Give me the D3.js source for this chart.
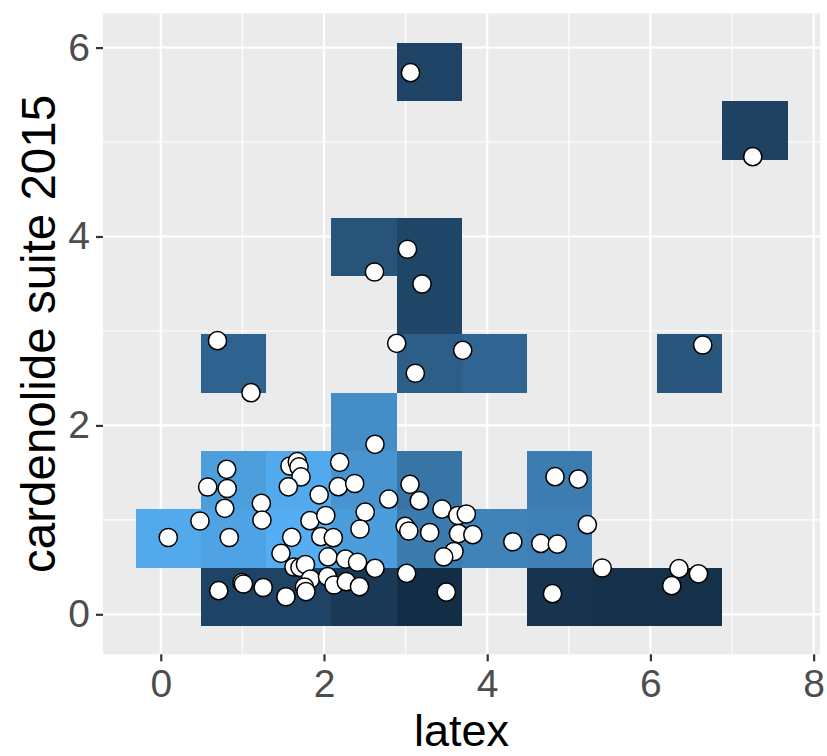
<!DOCTYPE html>
<html>
<head>
<meta charset="utf-8">
<script src="https://cdn.jsdelivr.net/npm/d3@7"></script>
<style>
  html, body { margin: 0; padding: 0; background: #ffffff; }
  svg { display: block; }
  text { font-family: "Liberation Sans", Arial, Helvetica, sans-serif; }
</style>
</head>
<body>
<svg id="chart" width="827" height="756"></svg>
<script>
// ---- data ----
const latex = [3.06,7.254,3.023,2.619,3.201,0.695,2.891,3.70,6.641,3.119,1.105,2.625,
  0.808,0.575,0.814,0.784,0.480,0.092,0.839,1.232,1.240,1.583,1.673,1.694,1.718,1.563,
  2.192,1.941,2.175,2.376,2.505,2.441,1.828,2.022,1.604,1.961,2.114,1.473,2.049,2.263,
  2.411,1.632,1.706,1.773,2.625,1.835,1.761,1.779,2.043,2.123,2.273,2.435,1.534,1.255,
  0.995,1.013,0.710,3.054,2.793,3.168,3.446,3.640,3.744,2.995,3.039,3.295,3.648,3.824,
  3.593,3.467,3.013,3.499,4.314,4.657,4.859,4.831,5.116,5.227,5.409,4.800,6.350,6.589,6.261];
const cardenolide = [5.734,4.845,3.865,3.624,3.497,2.897,2.869,2.795,2.851,2.552,2.346,1.800,
  1.535,1.348,1.332,1.122,0.988,0.813,0.813,1.175,0.998,1.570,1.616,1.560,1.454,1.350,
  1.609,1.265,1.351,1.385,1.081,0.903,0.991,1.046,0.815,0.822,0.811,0.646,0.607,0.585,
  0.551,0.501,0.496,0.527,0.487,0.374,0.289,0.241,0.398,0.310,0.345,0.294,0.186,0.284,
  0.335,0.321,0.250,1.376,1.219,1.203,1.113,1.046,1.062,0.931,0.882,0.866,0.855,0.843,
  0.665,0.607,0.434,0.234,0.768,0.750,0.742,1.457,1.432,0.949,0.490,0.218,0.483,0.429,0.303];

// bin tiles: centres and summary value
const tileX = [0.894,1.692,2.491,3.289,4.886,5.685,6.483,
               0.095,0.894,1.692,2.491,3.289,4.088,4.886,
               0.894,1.692,2.491,3.289,4.886,
               2.491,
               0.894,3.289,4.088,6.483,
               3.289,
               2.491,3.289,
               7.282,
               3.289];
const tileY = [0.186,0.186,0.186,0.186,0.186,0.186,0.186,
               0.803,0.803,0.803,0.803,0.803,0.803,0.803,
               1.420,1.420,1.420,1.420,1.420,
               2.037,
               2.654,2.654,2.654,2.654,
               3.271,
               3.888,3.888,
               5.122,
               5.739];
const tileValue = [0.20,0.20,0.12,0.02,0.07,0.04,0.04,
                   0.95,0.90,0.98,0.86,0.62,0.68,0.66,
                   0.87,0.95,0.80,0.57,0.63,
                   0.75,
                   0.45,0.41,0.46,0.35,
                   0.22,
                   0.33,0.22,
                   0.19,
                   0.20];
const binWidthX = 0.7985;
const binWidthY = 0.617;

const xTicks = [0, 2, 4, 6, 8];
const yTicks = [0, 2, 4, 6];
const xMinor = [1, 3, 5, 7];
const yMinor = [1, 3, 5];
const xTitle = "latex";
const yTitle = "cardenolide suite 2015";

// ---- layout ----
const panel = { left: 103, right: 820, top: 13.5, bottom: 654.3 };
const svg = d3.select("#chart");

const x = d3.scaleLinear().domain([-0.708, 8.078]).range([panel.left, panel.right]);
const y = d3.scaleLinear().domain([-0.4235, 6.361]).range([panel.bottom, panel.top]);
const fill = d3.scaleLinear().domain([0, 1]).range(["#132B43", "#56B1F7"]).interpolate(d3.interpolateLab);

// panel background
svg.append("rect")
  .attr("x", panel.left).attr("y", panel.top)
  .attr("width", panel.right - panel.left).attr("height", panel.bottom - panel.top)
  .attr("fill", "#EBEBEB");

const grid = svg.append("g");
grid.selectAll("line.xminor").data(xMinor).join("line")
  .attr("x1", d => x(d)).attr("x2", d => x(d))
  .attr("y1", panel.top).attr("y2", panel.bottom)
  .attr("stroke", "#ffffff").attr("stroke-width", 1.1);
grid.selectAll("line.yminor").data(yMinor).join("line")
  .attr("y1", d => y(d)).attr("y2", d => y(d))
  .attr("x1", panel.left).attr("x2", panel.right)
  .attr("stroke", "#ffffff").attr("stroke-width", 1.1);
grid.selectAll("line.xmajor").data(xTicks).join("line")
  .attr("x1", d => x(d)).attr("x2", d => x(d))
  .attr("y1", panel.top).attr("y2", panel.bottom)
  .attr("stroke", "#ffffff").attr("stroke-width", 2.2);
grid.selectAll("line.ymajor").data(yTicks).join("line")
  .attr("y1", d => y(d)).attr("y2", d => y(d))
  .attr("x1", panel.left).attr("x2", panel.right)
  .attr("stroke", "#ffffff").attr("stroke-width", 2.2);

// tiles
const tiles = tileX.map((cx, i) => ({ cx, cy: tileY[i], v: tileValue[i] }));
svg.append("g").selectAll("rect").data(tiles).join("rect")
  .attr("x", d => x(d.cx - binWidthX / 2))
  .attr("y", d => y(d.cy + binWidthY / 2))
  .attr("width", d => x(d.cx + binWidthX / 2) - x(d.cx - binWidthX / 2))
  .attr("height", d => y(d.cy - binWidthY / 2) - y(d.cy + binWidthY / 2))
  .attr("fill", d => fill(d.v))
  .attr("shape-rendering", "crispEdges");

// points
const pts = latex.map((lx, i) => ({ lx, cy: cardenolide[i] }));
svg.append("g").selectAll("circle").data(pts).join("circle")
  .attr("cx", d => x(d.lx)).attr("cy", d => y(d.cy))
  .attr("r", 9.1)
  .attr("fill", "#ffffff").attr("stroke", "#000000").attr("stroke-width", 1.5);

// axes
const xAxis = d3.axisBottom(x).tickValues(xTicks).tickSize(7).tickPadding(8).tickFormat(d3.format("d"));
const gx = svg.append("g").attr("transform", `translate(0,${panel.bottom})`).call(xAxis);
gx.select(".domain").remove();
gx.selectAll(".tick line").attr("stroke", "#333333").attr("stroke-width", 2.2);
gx.selectAll(".tick text").attr("fill", "#4D4D4D").attr("font-size", 39)
  .attr("font-family", "'Liberation Sans', Arial, sans-serif");

const yAxis = d3.axisLeft(y).tickValues(yTicks).tickSize(7).tickPadding(6).tickFormat(d3.format("d"));
const gy = svg.append("g").attr("transform", `translate(${panel.left},0)`).call(yAxis);
gy.select(".domain").remove();
gy.selectAll(".tick line").attr("stroke", "#333333").attr("stroke-width", 2.2);
gy.selectAll(".tick text").attr("fill", "#4D4D4D").attr("font-size", 39)
  .attr("font-family", "'Liberation Sans', Arial, sans-serif");

// titles
svg.append("text")
  .attr("x", (panel.left + panel.right) / 2).attr("y", 746)
  .attr("text-anchor", "middle").attr("font-size", 45).attr("fill", "#000000")
  .text(xTitle);
svg.append("text")
  .attr("transform", `translate(55,${(panel.top + panel.bottom) / 2}) rotate(-90)`)
  .attr("text-anchor", "middle").attr("font-size", 47.5).attr("fill", "#000000")
  .text(yTitle);
</script>
</body>
</html>
